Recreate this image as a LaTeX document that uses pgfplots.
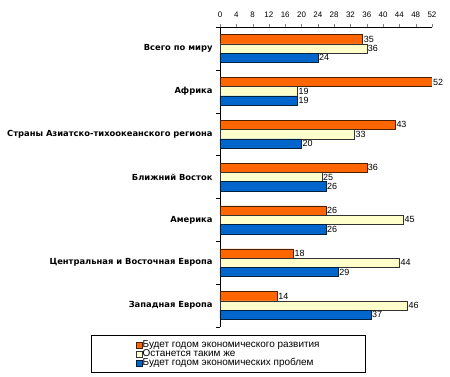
\documentclass[border=0pt]{standalone}
\usepackage{pgfplots}
\pgfplotsset{compat=1.18}
\usepackage{fontspec}
\setmainfont{Liberation Sans}
\newfontfamily\labfont{DejaVu Sans}
\definecolor{cOr}{HTML}{FF6600}
\definecolor{cYe}{HTML}{FFFFCC}
\definecolor{cBl}{HTML}{0066CC}
\begin{document}
\begin{tikzpicture}
\path[use as bounding box] (-220bp,-50bp) rectangle (230bp,327bp);
\begin{axis}[
 at={(0,0)}, anchor=south west,
 xbar,
 scale only axis, width=212bp, height=300bp,
 xmin=0, xmax=52, ymin=-0.5, ymax=6.5,
 axis x line*=top, axis y line*=left,
 x axis line style={-, black}, y axis line style={-, black},
 xtick={0,4,...,52},
 xticklabel style={font=\fontsize{8}{9}\selectfont, yshift=3bp},
 /pgf/number format/assume math mode=true,
 tick align=outside,
 major tick length=3bp,
 ytick={0,...,6},
 yticklabels={Западная Европа, Центральная и Восточная Европа, Америка, Ближний Восток, Страны Азиатско-тихоокеанского региона, Африка, Всего по миру},
 yticklabel style={font=\labfont\bfseries\fontsize{8.4}{9}\selectfont, xshift=-1bp},
 major y tick style={draw=none},
 minor ytick={-0.5,0.5,...,6.5},
 minor y tick style={draw=black},
 minor tick length=4bp,
 bar width=9.3bp,
 point meta=x,
 nodes near coords,
 every node near coord/.append style={font=\fontsize{9}{10}\selectfont, inner xsep=1bp, black},
 legend style={at={(rel axis cs:0.047,0)}, anchor=north, yshift=-8bp, xshift=-2bp, draw=black,
   font=\fontsize{10}{10}\selectfont, inner xsep=45bp, inner ysep=5bp, row sep=0bp,
   cells={anchor=west}, nodes={inner sep=0.3bp, text height=6.8bp, text depth=1.6bp}},
 legend image code/.code={\draw[#1] (0bp,-3bp) rectangle (6bp,3bp);},
 legend cell align=left,
]
\addplot[bar shift=9.3bp, fill=cOr, draw=black!70!cOr] coordinates {(35,6) (52,5) (43,4) (36,3) (26,2) (18,1) (14,0)};
\addlegendentry{Будет годом экономического развития}
\addplot[bar shift=0bp, fill=cYe, draw=black!80] coordinates {(36,6) (19,5) (33,4) (25,3) (45,2) (44,1) (46,0)};
\addlegendentry{Останется таким же}
\addplot[bar shift=-9.3bp, fill=cBl, draw=black!70!cBl] coordinates {(24,6) (19,5) (20,4) (26,3) (26,2) (29,1) (37,0)};
\addlegendentry{Будет годом экономических проблем}
\end{axis}
\end{tikzpicture}
\end{document}
